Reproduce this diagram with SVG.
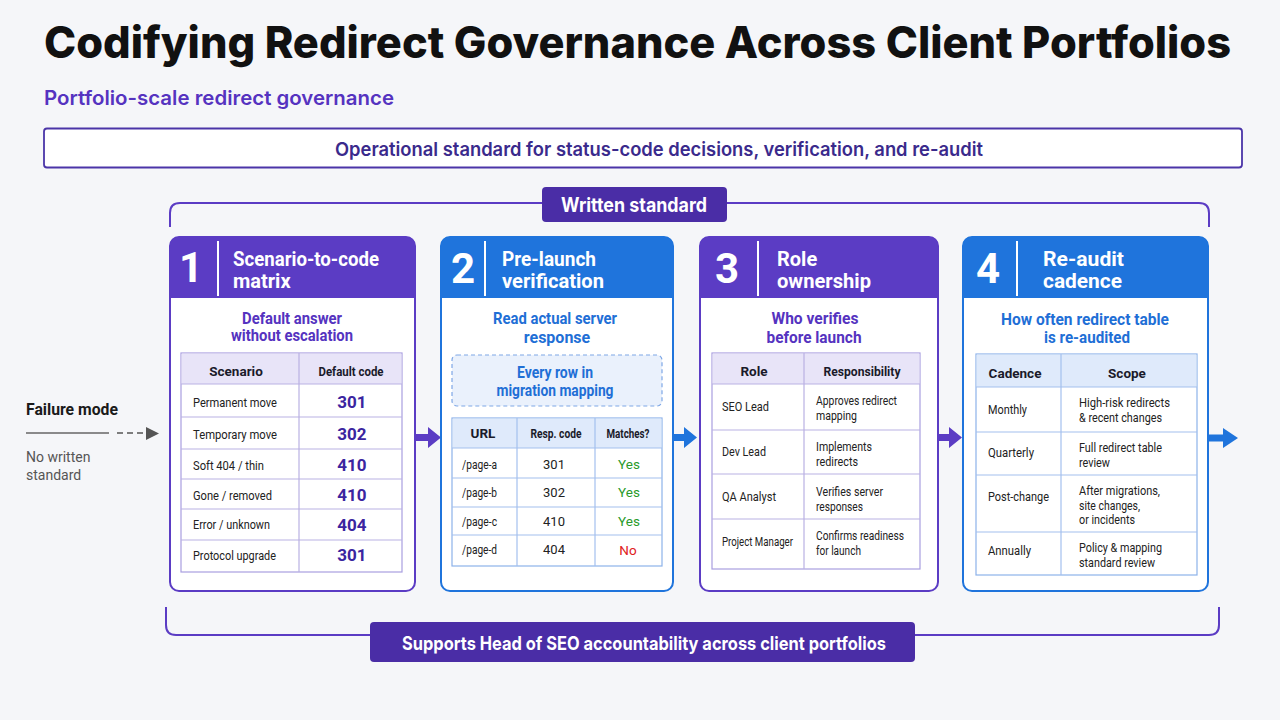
<svg xmlns="http://www.w3.org/2000/svg" width="1280" height="720" viewBox="0 0 1280 720">
<defs>
<style>
.hd{font-family:Roboto,"Liberation Sans",sans-serif;font-weight:700;font-size:20px;fill:#fff}
.num{font-family:Roboto,"Liberation Sans",sans-serif;font-weight:700;font-size:42px;fill:#fff;text-anchor:middle}
.sp{font-family:Roboto,"Liberation Sans",sans-serif;font-weight:700;font-size:16px;fill:#5533c0;text-anchor:middle}
.sb{font-family:Roboto,"Liberation Sans",sans-serif;font-weight:700;font-size:16px;fill:#1f6fd6;text-anchor:middle}
.th{font-family:Roboto,"Liberation Sans",sans-serif;font-weight:700;font-size:13.5px;fill:#1a1a2a;text-anchor:middle}
.td{font-family:Roboto,"Liberation Sans",sans-serif;font-weight:400;font-size:13px;fill:#222}
.tc{font-family:Roboto,"Liberation Sans",sans-serif;font-weight:400;font-size:13px;fill:#222;text-anchor:middle}
.code{font-family:Roboto,"Liberation Sans",sans-serif;font-weight:700;font-size:17px;fill:#3b25a0;text-anchor:middle}
.yes{font-family:Roboto,"Liberation Sans",sans-serif;font-weight:400;font-size:13.5px;fill:#2a9a2a;text-anchor:middle}
.no{font-family:Roboto,"Liberation Sans",sans-serif;font-weight:400;font-size:13.5px;fill:#e02020;text-anchor:middle}
.tp{fill:#fff;stroke:#a99ee0;stroke-width:1.2}
.tb{fill:#fff;stroke:#8db2ea;stroke-width:1.2}
.lp{stroke:#b9b1e3;stroke-width:1.2}
.lb{stroke:#a3c0ee;stroke-width:1.2}
</style>
</defs>
<rect width="1280" height="720" fill="#f5f6f9"/>

<g id="header">
<text x="44" y="58" font-family="Inter,Roboto,'Liberation Sans',sans-serif" font-weight="800" font-size="44" fill="#111" textLength="1187" lengthAdjust="spacingAndGlyphs">Codifying Redirect Governance Across Client Portfolios</text>
<text x="44" y="105" font-family="Inter,Roboto,'Liberation Sans',sans-serif" font-weight="600" font-size="20" fill="#5533c0" textLength="350" lengthAdjust="spacingAndGlyphs">Portfolio-scale redirect governance</text>
</g>

<g id="standard-box">
<rect x="44" y="128.5" width="1198" height="39" rx="3" fill="#fff" stroke="#4b35a8" stroke-width="1.8"/>
<text x="335" y="156" font-family="Inter,Roboto,'Liberation Sans',sans-serif" font-weight="600" font-size="19" fill="#3a2a8c" textLength="648" lengthAdjust="spacingAndGlyphs">Operational standard for status-code decisions, verification, and re-audit</text>
</g>

<g id="written-standard">
<path d="M170,227 V213 Q170,203 180,203 H1199 Q1209,203 1209,213 V227" fill="none" stroke="#5b3cc4" stroke-width="2"/>
<rect x="542" y="187" width="185" height="35" rx="4" fill="#4a2da6"/>
<text x="561" y="212" font-family="Inter,Roboto,'Liberation Sans',sans-serif" font-weight="700" font-size="20" fill="#fff" textLength="146" lengthAdjust="spacingAndGlyphs">Written standard</text>
</g>

<g id="failure-mode">
<text x="26" y="415" font-family="Roboto,'Liberation Sans',sans-serif" font-weight="700" font-size="17" fill="#1a1a1a" textLength="92" lengthAdjust="spacingAndGlyphs">Failure mode</text>
<line x1="26" y1="433" x2="109" y2="433" stroke="#666" stroke-width="1.5"/>
<line x1="117" y1="433" x2="147" y2="433" stroke="#555" stroke-width="1.5" stroke-dasharray="6,4"/>
<polygon points="146,427 159,433.5 146,440" fill="#555"/>
<text x="26" y="462" font-family="Roboto,'Liberation Sans',sans-serif" font-size="14" fill="#555">No written</text>
<text x="26" y="480" font-family="Roboto,'Liberation Sans',sans-serif" font-size="14" fill="#555">standard</text>
</g>

<g id="connectors">
<path d="M415,434 H428 V427 L441,437.5 L428,448 V441 H415 Z" fill="#5b3cc4"/>
<path d="M673,434 H684 V427 L697,437.5 L684,448 V441 H673 Z" fill="#1f74dc"/>
<path d="M938,434 H949 V427 L962,437.5 L949,448 V441 H938 Z" fill="#5b3cc4"/>
<path d="M1208,434.5 H1223 V428 L1238,438 L1223,448 V441.5 H1208 Z" fill="#1f74dc"/>
</g>

<g id="card1">
<rect x="170" y="237" width="245" height="354" rx="9" fill="#fff" stroke="#5b3cc4" stroke-width="2"/>
<path d="M170,298 V246 Q170,237 179,237 H406 Q415,237 415,246 V298 Z" fill="#5b3cc4"/>
<line x1="218" y1="241" x2="218" y2="296" stroke="#fff" stroke-width="2"/>
<text x="191" y="282" class="num">1</text>
<text x="233" y="266" class="hd" textLength="146" lengthAdjust="spacingAndGlyphs">Scenario-to-code</text>
<text x="233" y="288" class="hd">matrix</text>
<text x="292" y="324" class="sp" textLength="100" lengthAdjust="spacingAndGlyphs">Default answer</text>
<text x="292" y="341" class="sp" textLength="122" lengthAdjust="spacingAndGlyphs">without escalation</text>
<rect x="181" y="353" width="221" height="219" class="tp"/>
<rect x="181.6" y="353.6" width="219.8" height="30.4" fill="#e8e4f8"/>
<line x1="181" y1="384" x2="402" y2="384" class="lp"/>
<line x1="181" y1="417" x2="402" y2="417" class="lp"/>
<line x1="181" y1="449" x2="402" y2="449" class="lp"/>
<line x1="181" y1="479" x2="402" y2="479" class="lp"/>
<line x1="181" y1="509" x2="402" y2="509" class="lp"/>
<line x1="181" y1="540" x2="402" y2="540" class="lp"/>
<line x1="299" y1="353" x2="299" y2="572" class="lp"/>
<text x="236" y="376" class="th">Scenario</text>
<text x="351" y="376" class="th" textLength="65" lengthAdjust="spacingAndGlyphs">Default code</text>
<text x="193" y="407" class="td" textLength="84" lengthAdjust="spacingAndGlyphs">Permanent move</text>
<text x="193" y="439" class="td" textLength="84" lengthAdjust="spacingAndGlyphs">Temporary move</text>
<text x="193" y="470" class="td" textLength="71" lengthAdjust="spacingAndGlyphs">Soft 404 / thin</text>
<text x="193" y="500" class="td" textLength="79" lengthAdjust="spacingAndGlyphs">Gone / removed</text>
<text x="193" y="529" class="td" textLength="77" lengthAdjust="spacingAndGlyphs">Error / unknown</text>
<text x="193" y="560" class="td" textLength="83" lengthAdjust="spacingAndGlyphs">Protocol upgrade</text>
<text x="352" y="408" class="code">301</text>
<text x="352" y="440" class="code">302</text>
<text x="352" y="471" class="code">410</text>
<text x="352" y="501" class="code">410</text>
<text x="352" y="531" class="code">404</text>
<text x="352" y="561" class="code">301</text>
</g>

<g id="card2">
<rect x="441" y="237" width="232" height="354" rx="9" fill="#fff" stroke="#1f74dc" stroke-width="2"/>
<path d="M441,298 V246 Q441,237 450,237 H664 Q673,237 673,246 V298 Z" fill="#1f74dc"/>
<line x1="485" y1="241" x2="485" y2="296" stroke="#fff" stroke-width="2"/>
<text x="463" y="283" class="num">2</text>
<text x="502" y="266" class="hd" textLength="94" lengthAdjust="spacingAndGlyphs">Pre-launch</text>
<text x="502" y="288" class="hd" textLength="102" lengthAdjust="spacingAndGlyphs">verification</text>
<text x="555" y="324" class="sb" textLength="124" lengthAdjust="spacingAndGlyphs">Read actual server</text>
<text x="557" y="343" class="sb">response</text>
<rect x="452" y="355" width="210" height="51" rx="5" fill="#eaf1fc" stroke="#7ea7e6" stroke-width="1.2" stroke-dasharray="4,3"/>
<text x="555" y="378" class="sb" font-size="15" textLength="76" lengthAdjust="spacingAndGlyphs">Every row in</text>
<text x="555" y="396" class="sb" font-size="15" textLength="117" lengthAdjust="spacingAndGlyphs">migration mapping</text>
<rect x="452" y="418" width="210" height="148" class="tb"/>
<rect x="452.6" y="418.6" width="208.8" height="29.4" fill="#dfeafb"/>
<line x1="452" y1="448" x2="662" y2="448" class="lb"/>
<line x1="452" y1="478" x2="662" y2="478" class="lb"/>
<line x1="452" y1="507" x2="662" y2="507" class="lb"/>
<line x1="452" y1="535" x2="662" y2="535" class="lb"/>
<line x1="517" y1="418" x2="517" y2="566" class="lb"/>
<line x1="595" y1="418" x2="595" y2="566" class="lb"/>
<text x="483" y="438" class="th">URL</text>
<text x="556" y="438" class="th" textLength="51" lengthAdjust="spacingAndGlyphs">Resp. code</text>
<text x="628" y="438" class="th" textLength="43" lengthAdjust="spacingAndGlyphs">Matches?</text>
<text x="462" y="469" class="td" textLength="35" lengthAdjust="spacingAndGlyphs">/page-a</text>
<text x="462" y="497" class="td" textLength="35" lengthAdjust="spacingAndGlyphs">/page-b</text>
<text x="462" y="526" class="td" textLength="35" lengthAdjust="spacingAndGlyphs">/page-c</text>
<text x="462" y="554" class="td" textLength="35" lengthAdjust="spacingAndGlyphs">/page-d</text>
<text x="554" y="469" class="tc">301</text>
<text x="554" y="497" class="tc">302</text>
<text x="554" y="526" class="tc">410</text>
<text x="554" y="554" class="tc">404</text>
<text x="629" y="469" class="yes">Yes</text>
<text x="629" y="497" class="yes">Yes</text>
<text x="629" y="526" class="yes">Yes</text>
<text x="628" y="555" class="no">No</text>
</g>

<g id="card3">
<rect x="700" y="237" width="238" height="354" rx="9" fill="#fff" stroke="#5b3cc4" stroke-width="2"/>
<path d="M700,298 V246 Q700,237 709,237 H929 Q938,237 938,246 V298 Z" fill="#5b3cc4"/>
<line x1="758" y1="241" x2="758" y2="296" stroke="#fff" stroke-width="2"/>
<text x="727" y="283" class="num">3</text>
<text x="777" y="266" class="hd">Role</text>
<text x="777" y="288" class="hd" textLength="94" lengthAdjust="spacingAndGlyphs">ownership</text>
<text x="815" y="324" class="sp" textLength="87" lengthAdjust="spacingAndGlyphs">Who verifies</text>
<text x="814" y="343" class="sp" textLength="95" lengthAdjust="spacingAndGlyphs">before launch</text>
<rect x="712" y="353" width="208" height="216" class="tp"/>
<rect x="712.6" y="353.6" width="206.8" height="30.4" fill="#e8e4f8"/>
<line x1="712" y1="384" x2="920" y2="384" class="lp"/>
<line x1="712" y1="430" x2="920" y2="430" class="lp"/>
<line x1="712" y1="474" x2="920" y2="474" class="lp"/>
<line x1="712" y1="519" x2="920" y2="519" class="lp"/>
<line x1="804" y1="353" x2="804" y2="569" class="lp"/>
<text x="754" y="376" class="th">Role</text>
<text x="862" y="376" class="th" textLength="77" lengthAdjust="spacingAndGlyphs">Responsibility</text>
<text x="722" y="411" class="td" textLength="47" lengthAdjust="spacingAndGlyphs">SEO Lead</text>
<text x="722" y="456" class="td" textLength="44" lengthAdjust="spacingAndGlyphs">Dev Lead</text>
<text x="722" y="501" class="td" textLength="54" lengthAdjust="spacingAndGlyphs">QA Analyst</text>
<text x="722" y="546" class="td" textLength="71" lengthAdjust="spacingAndGlyphs">Project Manager</text>
<text x="816" y="405" class="td" textLength="81" lengthAdjust="spacingAndGlyphs">Approves redirect</text>
<text x="816" y="420" class="td" textLength="41" lengthAdjust="spacingAndGlyphs">mapping</text>
<text x="816" y="451" class="td" textLength="56" lengthAdjust="spacingAndGlyphs">Implements</text>
<text x="816" y="466" class="td" textLength="42" lengthAdjust="spacingAndGlyphs">redirects</text>
<text x="816" y="496" class="td" textLength="67" lengthAdjust="spacingAndGlyphs">Verifies server</text>
<text x="816" y="511" class="td" textLength="47" lengthAdjust="spacingAndGlyphs">responses</text>
<text x="816" y="540" class="td" textLength="88" lengthAdjust="spacingAndGlyphs">Confirms readiness</text>
<text x="816" y="555" class="td" textLength="45" lengthAdjust="spacingAndGlyphs">for launch</text>
</g>

<g id="card4">
<rect x="963" y="237" width="245" height="354" rx="9" fill="#fff" stroke="#1f74dc" stroke-width="2"/>
<path d="M963,298 V246 Q963,237 972,237 H1199 Q1208,237 1208,246 V298 Z" fill="#1f74dc"/>
<line x1="1017" y1="241" x2="1017" y2="296" stroke="#fff" stroke-width="2"/>
<text x="988" y="283" class="num">4</text>
<text x="1043" y="266" class="hd" textLength="81" lengthAdjust="spacingAndGlyphs">Re-audit</text>
<text x="1043" y="288" class="hd" textLength="79" lengthAdjust="spacingAndGlyphs">cadence</text>
<text x="1085" y="325" class="sb" textLength="168" lengthAdjust="spacingAndGlyphs">How often redirect table</text>
<text x="1087" y="343" class="sb" textLength="86" lengthAdjust="spacingAndGlyphs">is re-audited</text>
<rect x="976" y="354" width="221" height="221" class="tb"/>
<rect x="976.6" y="354.6" width="219.8" height="32.4" fill="#dfeafb"/>
<line x1="976" y1="387" x2="1197" y2="387" class="lb"/>
<line x1="976" y1="432" x2="1197" y2="432" class="lb"/>
<line x1="976" y1="475" x2="1197" y2="475" class="lb"/>
<line x1="976" y1="532" x2="1197" y2="532" class="lb"/>
<line x1="1061" y1="354" x2="1061" y2="575" class="lb"/>
<text x="1015" y="378" class="th">Cadence</text>
<text x="1127" y="378" class="th">Scope</text>
<text x="988" y="414" class="td" textLength="39" lengthAdjust="spacingAndGlyphs">Monthly</text>
<text x="988" y="457" class="td" textLength="46" lengthAdjust="spacingAndGlyphs">Quarterly</text>
<text x="988" y="501" class="td" textLength="61" lengthAdjust="spacingAndGlyphs">Post-change</text>
<text x="988" y="555" class="td" textLength="43" lengthAdjust="spacingAndGlyphs">Annually</text>
<text x="1079" y="407" class="td" textLength="91" lengthAdjust="spacingAndGlyphs">High-risk redirects</text>
<text x="1079" y="422" class="td" textLength="83" lengthAdjust="spacingAndGlyphs">&amp; recent changes</text>
<text x="1079" y="452" class="td" textLength="83" lengthAdjust="spacingAndGlyphs">Full redirect table</text>
<text x="1079" y="467" class="td" textLength="31" lengthAdjust="spacingAndGlyphs">review</text>
<text x="1079" y="495" class="td" textLength="81" lengthAdjust="spacingAndGlyphs">After migrations,</text>
<text x="1079" y="510" class="td" textLength="61" lengthAdjust="spacingAndGlyphs">site changes,</text>
<text x="1079" y="524" class="td" textLength="56" lengthAdjust="spacingAndGlyphs">or incidents</text>
<text x="1079" y="552" class="td" textLength="83" lengthAdjust="spacingAndGlyphs">Policy &amp; mapping</text>
<text x="1079" y="567" class="td" textLength="76" lengthAdjust="spacingAndGlyphs">standard review</text>
</g>

<g id="accountability">
<path d="M166,607 V625 Q166,635 176,635 H1209 Q1219,635 1219,625 V607" fill="none" stroke="#5b3cc4" stroke-width="2"/>
<rect x="370" y="622" width="545" height="40" rx="4" fill="#4a2da6"/>
<text x="402" y="650" font-family="Inter,Roboto,'Liberation Sans',sans-serif" font-weight="700" font-size="18.5" fill="#fff" textLength="484" lengthAdjust="spacingAndGlyphs">Supports Head of SEO accountability across client portfolios</text>
</g>
</svg>
